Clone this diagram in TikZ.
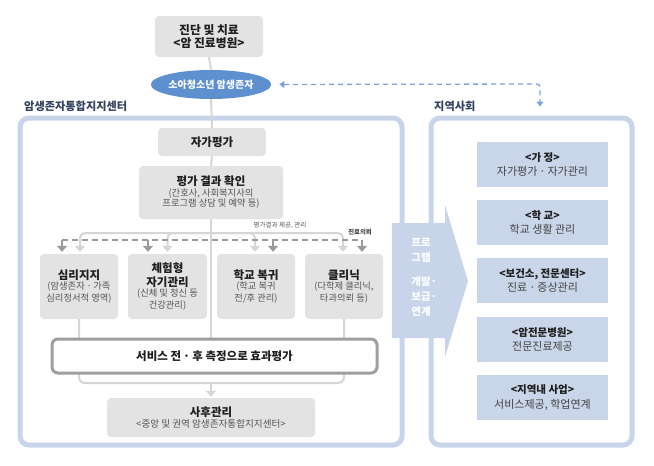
\documentclass[tikz,border=0pt]{standalone}
\usepackage{fontspec}
\setmainfont{Noto Sans CJK KR}
\usetikzlibrary{arrows.meta,calc,shapes.geometric}
\definecolor{frameblue}{HTML}{C7D4E9}
\definecolor{ellblue}{HTML}{5E90CF}
\definecolor{dashblue}{HTML}{7FA3DD}
\definecolor{boxgray}{HTML}{E3E3E3}
\definecolor{linegray}{HTML}{D6D6D6}
\definecolor{darkarrow}{HTML}{9A9A9A}
\definecolor{rbox}{HTML}{C9D5E8}
\definecolor{navy}{HTML}{33435F}
\definecolor{txt}{HTML}{1E1E1E}
\definecolor{subgray}{HTML}{555555}
\definecolor{svcgray}{HTML}{9E9E9E}
\newcommand\tA[1]{{\bfseries\fontsize{11.5}{13}\selectfont #1}}
\newcommand\sB[1]{{\color{subgray}\fontsize{9.3}{11}\selectfont #1}}
\newcommand\rT[1]{{\bfseries\fontsize{10.5}{13}\selectfont #1}}
\newcommand\rB[1]{{\color{subgray!80!black}\fontsize{11}{13}\selectfont #1}}
\newcommand\md{\hspace{0.18em}·\hspace{0.18em}}
\begin{document}
\begin{tikzpicture}[x=1pt,y=-1pt,
  gbox/.style={fill=boxgray, rounded corners=4pt, align=center, inner sep=0pt, text=txt},
  rboxs/.style={fill=rbox, align=center, inner sep=0pt, minimum width=131pt, minimum height=45pt, text=txt},
  frm/.style={draw=frameblue, line width=5pt, rounded corners=9pt, inner sep=0pt},
  lg/.style={draw=linegray, line width=2pt},
  lgtip/.style={-{Triangle[width=10pt,length=6pt]}},
  dk/.style={draw=darkarrow, line width=2pt},
  dktip/.style={-{Triangle[width=10pt,length=6pt]}},
  small/.style={font=\fontsize{6.5}{7}\selectfont, text=subgray, inner sep=0pt}
]
\useasboundingbox (0,0) rectangle (654,466);
\fill[white] (0,0) rectangle (654,466);

% frames
\node[frm, minimum width=382pt, minimum height=327pt] (lframe) at (211,281.5) {};
\node[frm, minimum width=201pt, minimum height=327pt] (rframe) at (531.5,281.5) {};
\node[anchor=west, text=navy, font=\bfseries\fontsize{11.2}{13}\selectfont, inner sep=0pt] (llab) at (24,106) {암생존자통합지지센터};
\node[anchor=west, text=navy, font=\bfseries\fontsize{11.2}{13}\selectfont, inner sep=0pt] (rlab) at (434,106) {지역사회};

% chevron
\fill[frameblue] (392,223) -- (445,223) -- (445,205) -- (468,281) -- (445,357) -- (445,338) -- (392,338) -- cycle;
\node[align=center, text=white, font=\bfseries\fontsize{10.5}{15}\selectfont, inner sep=0pt] (prog) at (421,277.5) {프로\\그램\\[9pt]개발\rlap{·}\\보급\rlap{·}\\연계};

% top nodes
\node[gbox, minimum width=108pt, minimum height=41pt, font=\bfseries\fontsize{11.8}{14}\selectfont] (diag) at (209,36.5) {진단 및 치료\\[-1pt]<암 진료병원>};
\node[ellipse, fill=ellblue, minimum width=112pt, minimum height=29pt, inner sep=0pt, text=white, font=\bfseries\fontsize{10}{12}\selectfont] (surv) at (211,84.5) {소아청소년 암생존자};
\node[gbox, minimum width=108pt, minimum height=28pt, font=\bfseries\fontsize{11.5}{13}\selectfont] (self) at (212,142) {자가평가};
\node[gbox, minimum width=144pt, minimum height=53pt] (eval) at (211,192.5) {\tA{평가 결과 확인}\\[-1.5pt]\sB{(간호사, 사회복지사의}\\[-1.5pt]\sB{프로그램 상담 및 예약 등)}};

% dashed blue arrow
\coordinate (bend) at (540,84);
\draw[dashblue, line width=1.3pt, dash pattern=on 5pt off 4pt, rounded corners=3pt,
      {Triangle[width=7pt,length=5pt]}-{Triangle[width=7pt,length=5pt]}, shorten <=8pt, shorten >=9pt]
  (surv.east) -- (bend) -- (rframe.north -| bend);

% spine
\draw[lg] (diag.south) -- (surv.north);
\draw[lg] (surv.south) -- (self.north);
\draw[lg] (self.south) -- (eval.north);

% boxes
\node[gbox, minimum width=78pt, minimum height=65pt] (b1) at (79,286.5) {\tA{심리지지}\\[-2pt]\sB{(암생존자\md 가족}\\[-0.5pt]\sB{심리정서적 영역)}};
\node[gbox, minimum width=79pt, minimum height=65pt] (b2) at (167.5,286.5) {\tA{체험형}\\[2.5pt]\tA{자기관리}\\[-2pt]\sB{(신체 및 정신 등}\\[-0.5pt]\sB{건강관리)}};
\node[gbox, minimum width=78pt, minimum height=65pt] (b3) at (256,286.5) {\tA{학교 복귀}\\[-2pt]\sB{(학교 복귀}\\[-0.5pt]\sB{전/후 관리)}};
\node[gbox, minimum width=78pt, minimum height=65pt] (b4) at (344,286.5) {\tA{클리닉}\\[-2pt]\sB{(다학제 클리닉,}\\[-0.5pt]\sB{타과의뢰 등)}};

\node[gbox, minimum width=208pt, minimum height=39pt] (after) at (211,417.5) {\tA{사후관리}\\[-1.5pt]\sB{\fontsize{9.6}{11}\selectfont <중앙 및 권역 암생존자통합지지센터>}};

% distribution lines
\coordinate (hsplit) at (211,233);
\draw[lg] (eval.south) -- (hsplit);
\draw[lg, rounded corners=5pt, lgtip, shorten >=2pt] (hsplit) -| ($(b1.north)+(1,0)$);
\draw[lg, rounded corners=5pt, lgtip, shorten >=2pt] (hsplit) -| (b2.north);
\draw[lg, rounded corners=5pt, lgtip, shorten >=2pt] (hsplit) -| ($(b3.north)+(-1,0)$);
\draw[lg, rounded corners=5pt, lgtip, shorten >=2pt] (hsplit) -| ($(b4.north)+(-1,0)$);
\draw[dk, dash pattern=on 6pt off 4pt] ($(b1.north)+(-17,-14)$) -- ($(b4.north)+(18,-14)$);
\draw[dk, dktip, shorten >=2pt] ($(b1.north)+(-17,-14)$) -- ($(b1.north)+(-17,0)$);
\draw[dk, dktip, shorten >=2pt] ($(b2.north)+(-19.5,-14)$) -- ($(b2.north)+(-19.5,0)$);
\draw[dk, dktip, shorten >=2pt] ($(b3.north)+(17,-14)$) -- ($(b3.north)+(17,0)$);
\draw[dk, dktip, shorten >=2pt] ($(b4.north)+(18,-14)$) -- ($(b4.north)+(18,0)$);
\node[small, anchor=south] (lab1) at (280,229) {평가결과 제공, 관리};
\node[small, anchor=south, font=\bfseries\fontsize{6.3}{7}\selectfont, text=subgray!80!black] (lab2) at (360,235) {진료의뢰};

% lower lines
\coordinate (hjoin) at (211,383);
\draw[lg] (hsplit) -- (hsplit |- b1.south) -- ($(hsplit)+(0,106)$);
\draw[lg, rounded corners=6pt] (b1.south) |- (hjoin);
\draw[lg, rounded corners=6pt] (b4.south) |- (hjoin);
\draw[lg, lgtip, shorten >=1pt] (hjoin) -- (after.north);

% service box
\node[draw=svcgray, line width=3pt, fill=white, rounded corners=6pt, minimum width=325pt, minimum height=34pt, inner sep=0pt, text=txt, font=\bfseries\fontsize{11.5}{13}\selectfont] (svc) at (214.5,356) {서비스 전\md 후 측정으로 효과평가};

% right boxes
\node[rboxs] (r1) at (542.5,164.5) {\rT{<가 정>}\\[2.5pt]\rB{자가평가\md 자가관리}};
\node[rboxs] (r2) at (542.5,222.5) {\rT{<학 교>}\\[2.5pt]\rB{학교 생활 관리}};
\node[rboxs] (r3) at (542.5,280.5) {\rT{<보건소, 전문센터>}\\[2.5pt]\rB{진료\md 증상관리}};
\node[rboxs] (r4) at (542.5,339.5) {\rT{<암전문병원>}\\[2.5pt]\rB{전문진료제공}};
\node[rboxs] (r5) at (542.5,397.5) {\rT{<지역내 사업>}\\[2.5pt]\rB{서비스제공, 학업연계}};
\end{tikzpicture}
\end{document}
